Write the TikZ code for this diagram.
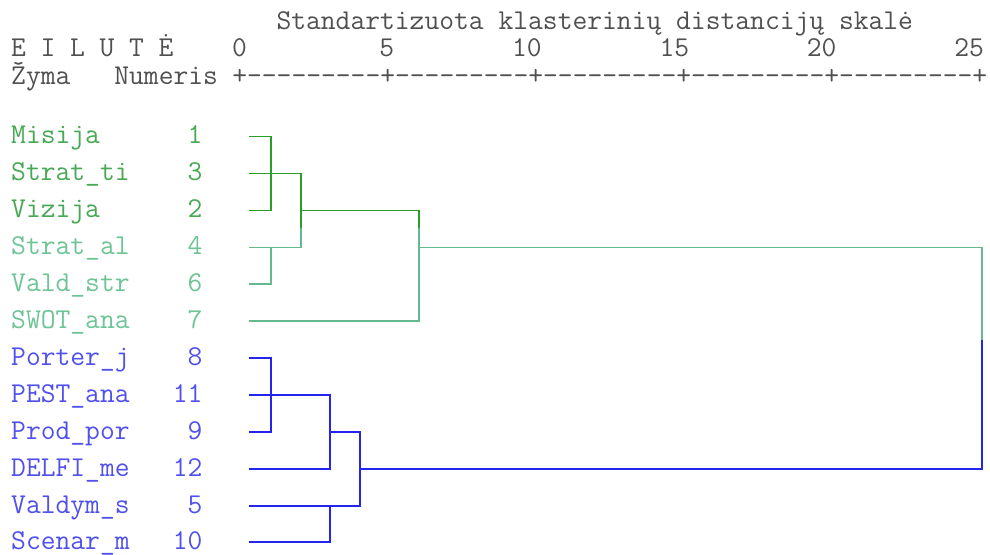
\documentclass[tikz,border=0pt]{standalone}
\usepackage{fontspec}
\definecolor{hdrcol}{RGB}{80,80,80}
\definecolor{gtxtA}{RGB}{72,168,84}
\definecolor{gtxtB}{RGB}{110,196,150}
\definecolor{btxt}{RGB}{80,80,236}
\definecolor{glineA}{RGB}{40,160,40}
\definecolor{glineB}{RGB}{100,186,140}
\definecolor{bline}{RGB}{36,36,240}
\begin{document}
\begin{tikzpicture}[x=1bp,y=-1bp,
  mono/.style={inner sep=0pt,font=\fontsize{28.85}{29}\selectfont\ttfamily},
  hdr/.style={mono,anchor=base west,text=hdrcol},
  hdrnum/.style={mono,anchor=base,text=hdrcol},
  leafname/.style={mono,anchor=base west},
  leafnum/.style={mono,anchor=base east},
  gA/.style={draw=glineA,line width=1.3bp},
  gB/.style={draw=glineB,line width=1.3bp},
  bl/.style={draw=bline,line width=2bp}]
\useasboundingbox (0,0) rectangle (990,555);
\def\cw{14.74}
% heading
\node[hdr] (title) at ({11+18*\cw},30) {Standartizuota klasterinių distancijų skalė};
\foreach \c [count=\i from 0] in {E,I,L,U,T,Ė}
  \node[hdr] (row\i) at ({11+2*\i*\cw},57) {\c};
\foreach \v/\p [count=\i] in {0/15,5/25,10/34.5,15/44.5,20/54.5,25/64.5}
  \node[hdrnum] (tick\i) at ({11+(\p+0.5)*\cw},57) {\v};
\node[hdr] (zyma) at (11,85) {Žyma};
\node[hdr] (numeris) at ({11+7*\cw},85) {Numeris};
\node[hdr] (scale) at ({11+15*\cw},85) {+---------+---------+---------+---------+---------+};
% leaf labels and leaf end points
\foreach \n/\k/\c [count=\i] in {Misija/1/gtxtA,Strat\_ti/3/gtxtA,Vizija/2/gtxtA,
    Strat\_al/4/gtxtB,Vald\_str/6/gtxtB,SWOT\_ana/7/gtxtB,
    Porter\_j/8/btxt,PEST\_ana/11/btxt,Prod\_por/9/btxt,
    DELFI\_me/12/btxt,Valdym\_s/5/btxt,Scenar\_m/10/btxt}{
  \pgfmathsetmacro\ry{136.5+36.9*(\i-1)}
  \node[leafname,text=\c] (lab\i) at (11,\ry+7.5) {\n};
  \node[leafnum,text=\c] (num\i) at ({11+13*\cw},\ry+7.5) {\k};
  \coordinate (f\i) at (249,\ry);
}
% join positions
\coordinate (ja) at (271,0);
\coordinate (jb) at (301,0);
\coordinate (jc) at (419,0);
\coordinate (jd) at (982,0);
\coordinate (je) at (330,0);
\coordinate (jf) at (360,0);
\coordinate (gsplit) at (0,228);
\coordinate (bsplit) at (0,340);
% green cluster
\draw[gA] (f1) -- (f1-|ja) -- (f3-|ja) -- (f3);
\draw[gA] (f2) -- (f2-|jb) -- (gsplit-|jb);
\draw[gA] (f3-|jb) -- (f3-|jc) -- (gsplit-|jc);
\draw[gB] (gsplit-|jb) -- (f4-|jb) -- (f4);
\draw[gB] (f5) -- (f5-|ja) -- (f4-|ja);
\draw[gB] (gsplit-|jc) -- (f6-|jc) -- (f6);
\draw[gB] (f4-|jc) -- (f4-|jd) -- (bsplit-|jd);
% blue cluster
\draw[bl] (bsplit-|jd) -- (f10-|jd) -- (f10-|jf);
\draw[bl] (f7) -- (f7-|ja) -- (f9-|ja) -- (f9);
\draw[bl] (f8) -- (f8-|je) -- (f10-|je) -- (f10);
\draw[bl] (f9-|je) -- (f9-|jf) -- (f11-|jf) -- (f11);
\draw[bl] (f12) -- (f12-|je) -- (f11-|je);
\end{tikzpicture}
\end{document}
